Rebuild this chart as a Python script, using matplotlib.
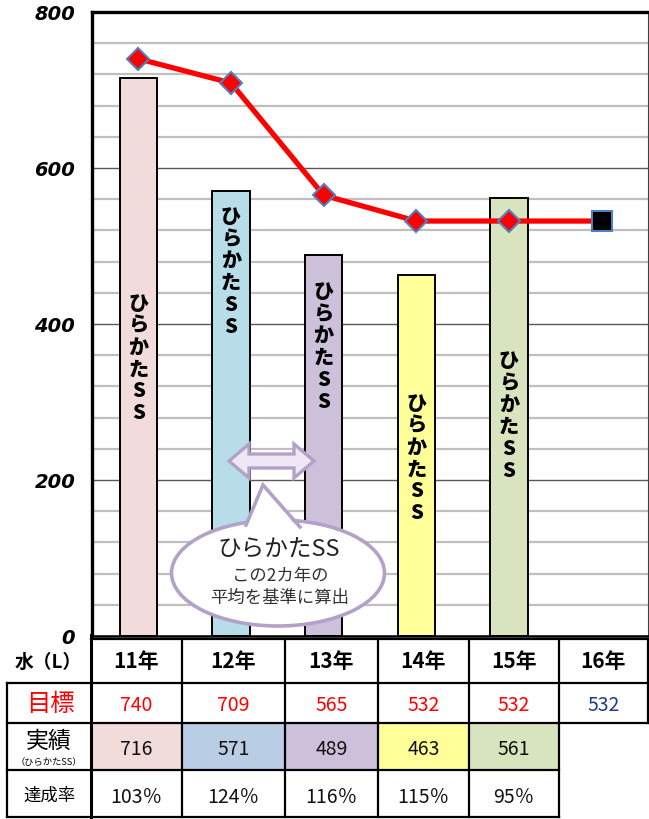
import matplotlib
matplotlib.use("Agg")
import matplotlib.pyplot as plt
from matplotlib.patches import Ellipse, Polygon, Rectangle
import numpy as np

plt.rcParams['font.family'] = ['Noto Sans CJK JP', 'DejaVu Sans']

# ---- data ----
years = ['11年', '12年', '13年', '14年', '15年', '16年']
target = [740, 709, 565, 532, 532, 532]
actual = [716, 571, 489, 463, 561]
rate = ['103％', '124％', '116％', '115％', '95％']
bar_label = 'ひらかたSS'
bar_colors = ['#F2DCDB', '#B7DEE8', '#CCC0DA', '#FFFF99', '#D7E4BD']
cell_colors = ['#F2DCDB', '#B9CDE5', '#CCC0DA', '#FFFF99', '#D7E4BD']
label_y = [357, 468, 372, 229, 283]   # vertical position of the in-bar labels
yticks = [0, 200, 400, 600, 800]

W, H = 649, 820
fig = plt.figure(figsize=(W / 100, H / 100), dpi=100)
ax = fig.add_axes([92 / W, 1 - 637 / H, (648 - 92) / W, (637 - 13) / H])

x = np.arange(len(years))
ax.set_xlim(-0.5, len(years) - 0.5)
ax.set_ylim(0, 800)

# grid
ax.set_yticks(yticks)
ax.set_yticks([v for v in range(40, 800, 40) if v % 200 != 0], minor=True)
ax.grid(axis='y', which='minor', color='#BFBFBF', lw=1.6)
ax.grid(axis='y', which='major', color='#595959', lw=1.0)
ax.set_axisbelow(True)
ax.set_xticks([])
ax.tick_params(axis='y', which='both', length=0, pad=12)
ax.set_yticklabels([str(v) for v in yticks], fontfamily='DejaVu Sans',
                   fontweight='bold', fontstyle='italic', fontsize=14)
for s in ['left', 'top']:
    ax.spines[s].set_linewidth(2.4)
    ax.spines[s].set_color('black')
ax.spines['bottom'].set_linewidth(1.8)
ax.spines['right'].set_linewidth(0.8)
ax.spines['right'].set_color('#404040')

# bars
bars = ax.bar(x[:len(actual)], actual, width=0.4, color=bar_colors,
              edgecolor='black', linewidth=1.4, zorder=2)
for i, ly in enumerate(label_y):
    ax.text(x[i], ly, '\n'.join(bar_label), ha='center', va='center',
            fontsize=14.5, fontweight='heavy', linespacing=1.12, zorder=3)

# target line
ax.plot(x, target, color='#FF0000', lw=3.8, zorder=4)
ax.plot(x[:-1], target[:-1], ls='none', marker='D', markersize=11,
        markerfacecolor='#FF0000', markeredgecolor='#4F81BD', mew=1.5, zorder=5)
ax.plot(x[-1:], target[-1:], ls='none', marker='s', markersize=15,
        markerfacecolor='black', markeredgecolor='#4F81BD', mew=1.5, zorder=5)

# ---- overlay (pixel coordinates) for callout and table ----
ov = fig.add_axes([0, 0, 1, 1], zorder=10)
ov.set_xlim(0, W)
ov.set_ylim(H, 0)
ov.axis('off')
ov.patch.set_visible(False)

lav = '#B3A2C7'
# double arrow
cx, cy = 271, 462
hl, hh, sh = 20, 17, 7
L, R = 229, 314
arrow = [(L, cy), (L + hl, cy - hh), (L + hl, cy - sh), (R - hl, cy - sh), (R - hl, cy - hh),
         (R, cy), (R - hl, cy + hh), (R - hl, cy + sh), (L + hl, cy + sh), (L + hl, cy + hh)]
ov.add_patch(Polygon(arrow, closed=True, facecolor='#EDE8F3', edgecolor=lav, lw=2.4))

# speech bubble
ov.add_patch(Ellipse((278, 574), 213, 106, facecolor='white', edgecolor=lav, lw=2.6))
tip = (263, 486)
ov.add_patch(Polygon([(244, 532), tip, (300, 532)], closed=True, facecolor='white',
                     edgecolor='none'))
ov.plot([246, tip[0], 300], [526, tip[1], 528], color=lav, lw=2.6, solid_joinstyle='miter')
ov.text(279, 550, 'ひらかたSS', ha='center', va='center', fontsize=17, color='#222222')
ov.text(280, 576, 'この2カ年の', ha='center', va='center', fontsize=12.5, color='#333333')
ov.text(280, 598, '平均を基準に算出', ha='center', va='center', fontsize=12.5, color='#333333')

# table
cols = [91, 182, 285, 378, 469, 559, 648]
rows = [640, 684, 724, 771, 818]
lw_t = 1.6
for i, c in enumerate(cell_colors):
    ov.add_patch(Rectangle((cols[i], rows[2]), cols[i + 1] - cols[i], rows[3] - rows[2],
                           facecolor=c, edgecolor='none'))
ov.plot([cols[0], cols[-1]], [rows[0]] * 2, color='black', lw=lw_t)
ov.plot([7, cols[-1]], [rows[1]] * 2, color='black', lw=lw_t)
ov.plot([7, cols[-1]], [rows[2]] * 2, color='black', lw=lw_t)
ov.plot([7, cols[5]], [rows[3]] * 2, color='black', lw=lw_t)
ov.plot([7, cols[5]], [rows[4]] * 2, color='black', lw=lw_t)
ov.plot([7, 7], [rows[1], rows[4]], color='black', lw=lw_t)
ov.plot([cols[0]] * 2, [636, rows[4]], color='black', lw=2.2)
for c in cols[1:6]:
    ov.plot([c, c], [rows[0], rows[4]], color='black', lw=lw_t)
ov.plot([cols[6]] * 2, [rows[0], rows[2]], color='black', lw=lw_t)

num_font = ['Noto Sans CJK JP']
for i, yl in enumerate(years):
    xc = (cols[i] + cols[i + 1]) / 2
    ov.text(xc, 662, yl, ha='center', va='center', fontsize=15, fontweight='bold')
    ov.text(xc, 706, str(target[i]), ha='center', va='center', fontsize=14,
            family=num_font, color='#FF0000' if i < 5 else '#1F3C88')
    if i < len(actual):
        ov.text(xc, 750, str(actual[i]), ha='center', va='center', fontsize=14,
                family=num_font, color='#111111')
        ov.text(xc, 797, rate[i], ha='center', va='center', fontsize=14,
                family=num_font, color='#111111')

ov.text(48, 662, '水（L）', ha='center', va='center', fontsize=13.5, fontweight='bold')
ov.text(50, 704, '目標', ha='center', va='center', fontsize=17.5, color='#FF0000')
ov.text(49, 741, '実績', ha='center', va='center', fontsize=16.5)
ov.text(49, 763, '（ひらかたSS）', ha='center', va='center', fontsize=6.7)
ov.text(49, 796, '達成率', ha='center', va='center', fontsize=12.5)

fig.savefig('out.png', dpi=100)
